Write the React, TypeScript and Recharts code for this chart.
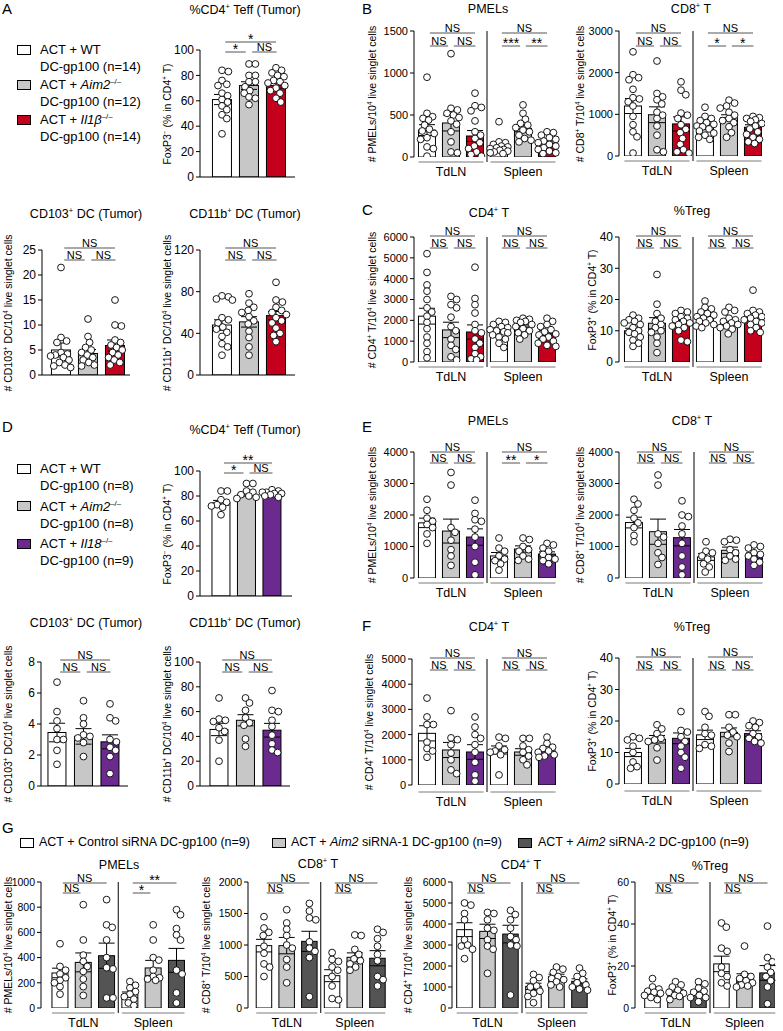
import React from 'react';
import { ComposedChart, Bar, ErrorBar, Scatter, XAxis, YAxis, ReferenceLine } from 'recharts';

const FONT = '"Liberation Sans", Arial, Helvetica, sans-serif';

const WHITE = '#ffffff';
const LGRAY = '#c7c7c7';
const RED = '#c5001c';
const PURPLE = '#6b2b8e';
const DGRAY = '#545454';

// ---------- A: Il1b cohort (n = 14, 12, 14)
const aTeffMean = [61, 72, 72];
const aTeffSem = [4, 3, 2];
const aTeffPts = [
  [84, 83, 76, 73, 72, 66, 64, 61, 59, 56, 53, 49, 46, 34],
  [89, 89, 80, 80, 75, 75, 71, 68, 66, 63, 62, 57],
  [86, 84, 82, 80, 79, 76, 75, 74, 72, 70, 68, 66, 62, 59],
];
const aDc103Mean = [5, 4.3, 5.9];
const aDc103Sem = [1.4, 0.8, 1.1];
const aDc103Pts = [
  [21.5, 7.5, 6.8, 6.5, 4.5, 4.2, 4, 3.8, 3.5, 3, 2.5, 2, 1.8, 1.5],
  [11.2, 7.7, 6.5, 5.5, 5, 4.5, 4, 3.5, 3, 2.5, 2, 1.8],
  [15, 10, 9.8, 7, 6.5, 6, 5.5, 5, 4.5, 4, 3.5, 3, 2.5, 2],
];
const aDc11bMean = [48, 51, 57];
const aDc11bSem = [5, 5, 4];
const aDc11bPts = [
  [76, 75, 73, 72, 55, 53, 50, 46, 44, 41, 37, 30, 27, 19],
  [78, 69, 65, 62, 60, 56, 52, 49, 42, 36, 27, 19],
  [89, 72, 70, 65, 62, 60, 58, 55, 52, 50, 45, 40, 38, 32],
];

// ---------- B / C: TdLN then Spleen
const bPmelMean = [320, 405, 250, 125, 340, 165];
const bPmelSem = [65, 95, 65, 25, 40, 25];
const bPmelPts = [
  [950, 520, 480, 460, 440, 380, 330, 310, 280, 230, 210, 120, 100, 10],
  [1230, 580, 560, 520, 500, 470, 430, 390, 300, 180, 60, 50],
  [760, 610, 590, 550, 430, 300, 260, 220, 170, 130, 100, 60, 30, 10],
  [420, 180, 170, 150, 130, 120, 110, 100, 90, 80, 70, 60, 50, 40],
  [620, 520, 450, 400, 380, 350, 320, 300, 260, 220, 200, 180],
  [300, 290, 260, 230, 210, 190, 170, 150, 130, 110, 90, 70, 50, 40],
];
const bCd8Mean = [1200, 990, 770, 690, 920, 690];
const bCd8Sem = [180, 190, 170, 60, 70, 60];
const bCd8Pts = [
  [2500, 1950, 1880, 1830, 1600, 1400, 1370, 1300, 1200, 950, 750, 580, 460, 70],
  [2280, 1500, 1420, 1350, 1250, 1050, 980, 900, 720, 500, 150, 100],
  [1780, 1580, 1470, 1030, 980, 900, 750, 640, 560, 420, 280, 150, 100, 70],
  [1170, 950, 900, 850, 800, 760, 720, 700, 650, 600, 550, 500, 450, 400],
  [1340, 1270, 1200, 1150, 1050, 980, 900, 850, 800, 700, 560, 450],
  [950, 920, 900, 870, 830, 780, 720, 650, 580, 520, 450, 400, 340, 300],
];
const cCd4Mean = [2200, 1540, 1440, 1440, 1730, 1390];
const cCd4Sem = [380, 370, 340, 90, 80, 110];
const cCd4Pts = [
  [5200, 4300, 3700, 3400, 3000, 2600, 2400, 2200, 1900, 1600, 1200, 900, 500, 200],
  [3150, 3000, 2750, 2600, 2150, 1700, 1500, 1100, 800, 600, 250, 100],
  [4550, 3050, 2750, 2350, 1800, 1500, 1400, 1100, 900, 700, 400, 250, 150, 100],
  [1950, 1900, 1800, 1700, 1650, 1550, 1500, 1450, 1400, 1300, 1200, 1100, 900, 700],
  [2100, 2050, 2000, 1950, 1900, 1800, 1700, 1600, 1500, 1400, 1300, 1100],
  [2100, 1950, 1800, 1700, 1550, 1450, 1350, 1300, 1200, 1100, 1000, 900, 800, 750],
];
const cTregMean = [10, 12.4, 12.4, 14.5, 12.7, 14];
const cTregSem = [0.8, 1.8, 0.9, 0.6, 0.7, 1.0];
const cTregPts = [
  [15, 14, 13.5, 13, 12.5, 12, 11, 10, 9.5, 9, 8, 7, 6, 5],
  [28, 18.5, 15.5, 14, 13, 12, 11, 10, 9.5, 8, 6, 3],
  [16.5, 16, 15.5, 14.5, 14, 13.5, 13, 12.5, 12, 11.5, 11, 10, 7, 6.5],
  [19.5, 17.5, 17, 16, 15.5, 15, 14.5, 14, 13.5, 13, 12.5, 12, 11.5, 11],
  [17.5, 16.5, 16, 14, 13.5, 13, 12.5, 12, 11.5, 11, 10.5, 9],
  [23, 16.5, 16, 15.5, 15, 14.5, 14, 13.5, 13, 12.5, 12, 11, 10, 9.5],
];

// ---------- D: Il18 cohort (n = 8, 8, 9)
const dTeffMean = [74.5, 81.4, 82];
const dTeffSem = [2, 1.5, 0.8];
const dTeffPts = [
  [84, 84, 77, 75, 73, 72, 71, 65],
  [90, 90, 84, 83, 81, 80, 79, 78],
  [85, 84, 83, 83, 82, 82, 81, 80, 79],
];
const dDc103Mean = [3.45, 3.2, 2.85];
const dDc103Sem = [0.6, 0.5, 0.45];
const dDc103Pts = [
  [6.7, 4.8, 4.2, 3.7, 3.0, 3.0, 2.3, 1.4],
  [5.5, 4.4, 4.0, 3.3, 3.2, 3.1, 2.8, 1.9],
  [5.3, 4.4, 4.2, 3.0, 2.85, 2.5, 2.3, 1.9, 0.8],
];
const dDc11bMean = [45.6, 53, 45];
const dDc11bSem = [5, 4.5, 5.5];
const dDc11bPts = [
  [71, 54, 53, 52, 47, 44, 37, 20],
  [71, 67, 61, 55, 51, 49, 38, 32],
  [77, 61, 60, 53, 48, 41, 34, 29, 27],
];

// ---------- E / F
const ePmelMean = [1750, 1490, 1300, 700, 920, 760];
const ePmelSem = [150, 380, 260, 110, 100, 70];
const ePmelPts = [
  [2500, 2150, 1900, 1800, 1700, 1600, 1400, 1100],
  [3350, 2950, 1600, 1450, 1200, 900, 700, 400],
  [2470, 2050, 1850, 1800, 1550, 1300, 1000, 500, 100],
  [1270, 950, 850, 700, 600, 550, 450, 250],
  [1270, 1220, 1000, 900, 850, 700, 600, 560],
  [1100, 1050, 950, 850, 750, 650, 600, 550, 450],
];
const eCd8Mean = [1760, 1470, 1280, 670, 880, 720];
const eCd8Sem = [170, 400, 260, 110, 100, 80];
const eCd8Pts = [
  [2500, 2350, 2150, 1900, 1750, 1600, 1350, 1150],
  [3270, 2950, 1400, 1300, 1100, 800, 650, 430],
  [2450, 2000, 1950, 1650, 1400, 1100, 700, 350, 100],
  [1150, 850, 800, 700, 600, 450, 350, 190],
  [1230, 1200, 1150, 900, 800, 700, 600, 560],
  [1050, 1000, 950, 800, 750, 700, 600, 500, 400],
];
const fCd4Mean = [2050, 1390, 1310, 1390, 1310, 1350];
const fCd4Sem = [300, 300, 290, 160, 130, 90];
const fCd4Pts = [
  [3450, 2700, 2400, 2400, 1700, 1450, 1350, 1100],
  [2950, 1870, 1800, 1600, 1270, 1000, 600, 450],
  [2700, 2300, 2000, 1850, 1600, 1300, 900, 400, 150],
  [1900, 1850, 1550, 1400, 1350, 1300, 1200, 400],
  [1850, 1850, 1550, 1400, 1300, 1150, 1000, 800],
  [1900, 1650, 1500, 1450, 1350, 1300, 1200, 1150, 1100],
];
const fTregMean = [10, 14.2, 14.5, 15.6, 16.4, 16];
const fTregSem = [1.3, 1.2, 1.7, 1.5, 1.4, 0.9];
const fTregPts = [
  [15, 14.5, 14, 12, 10, 7, 5.5, 5],
  [18.8, 17.5, 16, 14.5, 14, 13.5, 11.5, 7.6],
  [23, 17, 16.5, 15, 13.5, 12, 10, 8.5, 5],
  [23, 21.5, 18, 16, 15.5, 12.5, 12, 11.3],
  [22, 22, 18, 16.5, 15.5, 15, 13, 10.3],
  [20, 19.5, 18.5, 18, 16, 15, 14.5, 13.5, 13],
];

// ---------- G: siRNA cohort (n = 9 each)
const gPmelMean = [278, 362, 415, 105, 318, 378];
const gPmelSem = [38, 75, 100, 22, 60, 95];
const gPmelPts = [
  [510, 330, 300, 270, 240, 220, 200, 170, 110],
  [820, 540, 420, 370, 330, 290, 230, 170, 100],
  [860, 660, 640, 540, 400, 320, 310, 80, 80],
  [210, 180, 160, 130, 110, 90, 70, 40, 20],
  [660, 540, 400, 380, 300, 250, 240, 230, 220],
  [780, 740, 630, 580, 540, 300, 270, 120, 40],
];
const gCd8Mean = [990, 990, 1058, 513, 805, 790];
const gCd8Sem = [100, 130, 160, 95, 70, 120];
const gCd8Pts = [
  [1450, 1270, 1200, 1150, 980, 870, 700, 650, 500],
  [1560, 1350, 1250, 1150, 1000, 950, 770, 650, 400],
  [1660, 1540, 1430, 1400, 1050, 950, 900, 800, 180],
  [880, 770, 740, 650, 600, 500, 350, 150, 130],
  [1160, 1150, 930, 850, 780, 750, 700, 650, 600],
  [1250, 1200, 1100, 980, 850, 750, 500, 450, 350],
];
const gCd4Mean = [3730, 3650, 3520, 1030, 1500, 1270];
const gCd4Sem = [330, 340, 420, 150, 110, 120];
const gCd4Pts = [
  [5000, 4900, 4500, 4200, 3250, 3000, 2950, 2800, 2350],
  [4550, 4500, 4200, 3800, 3700, 3250, 2950, 2800, 1650],
  [4650, 4450, 4200, 3800, 3400, 3250, 3000, 2950, 620],
  [1600, 1450, 1300, 1050, 1000, 800, 700, 550, 250],
  [1950, 1850, 1700, 1500, 1400, 1350, 1250, 1100, 1000],
  [1900, 1650, 1500, 1350, 1200, 1100, 1000, 900, 850],
];
const gTregMean = [7.1, 8, 7.5, 21, 14.3, 16.7];
const gTregSem = [1, 0.9, 1, 3.7, 2, 3.5];
const gTregPts = [
  [14, 10, 9, 8, 7.5, 7, 6, 5, 4],
  [12.5, 11, 10, 8.5, 7.5, 7, 6, 5.5, 4],
  [12.5, 11.5, 9.5, 8, 7.5, 6, 5, 5, 3],
  [40.5, 38.5, 28.5, 27, 19.5, 16.5, 15, 12, 10.5],
  [29.5, 16, 15, 14, 13, 12, 11, 10.5, 10],
  [39, 24, 22, 19.5, 17, 15, 13, 10, 2],
];

const groupNames = ['TdLN', 'Spleen'];
const ticksTeff = [0, 20, 40, 60, 80, 100];

type Br = { from: number; to: number; text: string; top?: boolean };
const sig3 = (o: number, a: string, b: string, c: string): Br[] => [
  { from: o, to: o + 2, text: a, top: true },
  { from: o, to: o + 1, text: b },
  { from: o + 1, to: o + 2, text: c },
];
const sig2 = (o: number, a: string, b: string): Br[] => [
  { from: o, to: o + 2, text: a, top: true },
  { from: o, to: o + 1, text: b },
];

type Cfg = {
  axisX: number; c1: number; sp: number; bw: number; endX: number;
  yTop: number; y0: number; yMax: number; ticks: number[];
  means: number[]; sems: number[]; pts: number[][]; fills: string[];
  br: Br[]; brY: [number, number]; under?: number; tick?: number;
  title: React.ReactNode; titleX: number; titleY: number;
  yLabel: React.ReactNode; yLabelX: number;
};

// simple beeswarm: pixel offsets so the circles do not pile up
function swarm(vals: number[], pxY: number, r: number, lim: number): number[] {
  const order = vals.map((_, i) => i).sort((a, b) => vals[b] - vals[a]);
  const placed: [number, number][] = [];
  const out: number[] = new Array(vals.length).fill(0);
  const cands: number[] = [0];
  for (let k = 1; k * 0.8 <= lim; k++) cands.push(k * 0.8, -k * 0.8);
  for (const i of order) {
    const y = vals[i] * pxY;
    let best = 0;
    let bestD = -1;
    for (const c of cands) {
      let d = Infinity;
      for (const [px, py] of placed) d = Math.min(d, Math.hypot(px - c, py - y));
      if (d >= r * 1.8) { best = c; break; }
      if (d > bestD) { bestD = d; best = c; }
    }
    placed.push([best, y]);
    out[i] = best;
  }
  return out;
}

const Sup = ({ children }: { children: React.ReactNode }) => (
  <sup style={{ fontSize: '0.6em', lineHeight: 0, verticalAlign: '0.6em' }}>{children}</sup>
);

function Txt({ x, y, size = 12.5, rot = false, anchor = 'middle', children }: any) {
  const tx = anchor === 'middle' ? '-50%' : anchor === 'start' ? '0%' : '-100%';
  return (
    <div style={{
      position: 'absolute', left: x, top: y, fontSize: size, lineHeight: 1, whiteSpace: 'nowrap',
      transform: `translate(${tx},-50%)${rot ? ' rotate(-90deg)' : ''}`,
    }}>{children}</div>
  );
}

const dot = (p: any) => <circle cx={p.cx} cy={p.cy} r={3.4} fill="#fff" stroke="#000" strokeWidth={0.9} />;
const noMark = () => <g />;

function Panel({ c }: { c: Cfg }) {
  const ML = 44, MR = 8, MT = 40, MB = 34;
  const plotW = c.endX - c.axisX;
  const plotH = c.y0 - c.yTop;
  const dMin = 1 - (c.c1 - c.axisX) / c.sp;
  const dMax = 1 + (c.endX - c.c1) / c.sp;
  const pxY = plotH / c.yMax;
  const u = 1 / pxY;
  const rows = c.means.map((m, i) => ({ x: i + 1, mean: m, sem: c.sems[i] }));
  const dots = c.pts.flatMap((vals, i) => {
    const off = swarm(vals, pxY, 3.4, c.bw / 2 + 1);
    return vals.map((v, j) => ({ x: i + 1 + off[j] / c.sp, y: v }));
  });
  const grouped = c.means.length > 3;
  const yHi = c.yMax - c.brY[0] * u;
  const yLo = c.yMax - c.brY[1] * u;
  const yU = -(c.under ?? 5) * u;
  const half = c.bw / 2 / c.sp;
  // the bar is drawn centred on the library's x position, with the panel's bar width
  const barShape = (p: any) => {
    const cx = p.x + p.width / 2;
    const i = (p.payload?.x ?? 1) - 1;
    return <rect x={cx - c.bw / 2} y={p.y} width={c.bw} height={p.height} fill={c.fills[i]} stroke="#000" strokeWidth={1} />;
  };
  return (
    <>
      <div style={{ position: 'absolute', left: c.axisX - ML, top: c.yTop - MT }}>
        <ComposedChart width={ML + plotW + MR} height={MT + plotH + MB} data={rows}
          margin={{ top: MT, right: MR, bottom: MB, left: 0 }}>
          <XAxis type="number" dataKey="x" domain={[dMin, dMax]} hide allowDataOverflow />
          <YAxis type="number" domain={[0, c.yMax]} ticks={c.ticks} interval={0} allowDataOverflow width={ML}
            tickSize={4} tickMargin={2} stroke="#000" tick={{ fontSize: c.tick ?? 11, fill: '#000' }} />
          {!grouped && <ReferenceLine y={0} stroke="#000" ifOverflow="visible" />}
          {grouped && (
            <ReferenceLine segment={[{ x: 3.5, y: yU }, { x: 3.5, y: c.yMax }]} stroke="#000" ifOverflow="visible" />
          )}
          {grouped && groupNames.map((g, k) => (
            <ReferenceLine key={g} segment={[{ x: 1 + 3 * k - half, y: yU }, { x: 3 + 3 * k + half, y: yU }]}
              stroke="#7a7a7a" ifOverflow="visible"
              label={{ value: g, position: 'bottom', offset: 5, fontSize: 12.5, fill: '#000' }} />
          ))}
          <Bar dataKey="mean" barSize={c.bw} isAnimationActive={false} shape={barShape} />
          <Scatter data={dots} dataKey="y" isAnimationActive={false} shape={dot} />
          <Scatter data={rows} dataKey="mean" isAnimationActive={false} shape={noMark}>
            <ErrorBar dataKey="sem" width={8} stroke="#000" strokeWidth={1} direction="y" />
          </Scatter>
          {c.br.map((b, k) => {
            const y = b.top ? yHi : yLo;
            const first = (b.from - 1) % 3 === 0;
            const xa = b.from + 0.12;
            const xb = b.top ? b.to : first ? b.to - 0.12 : b.to + 0.02;
            const star = b.text !== 'NS';
            return (
              <ReferenceLine key={k} segment={[{ x: xa, y }, { x: xb, y }]} stroke="#555" ifOverflow="visible"
                label={{ value: b.text, position: 'top', offset: star ? -2 : 1.5, fontSize: star ? 14 : 11, fill: '#000' }} />
            );
          })}
        </ComposedChart>
      </div>
      <Txt x={c.titleX} y={c.titleY}>{c.title}</Txt>
      <Txt x={c.yLabelX} y={(c.yTop + c.y0) / 2} size={10.5} rot>{c.yLabel}</Txt>
    </>
  );
}

const fillsA = [WHITE, LGRAY, RED];
const fillsA6 = [...fillsA, ...fillsA];
const fillsD = [WHITE, LGRAY, PURPLE];
const fillsD6 = [...fillsD, ...fillsD];
const fillsG6 = [WHITE, LGRAY, DGRAY, WHITE, LGRAY, DGRAY];

const lblTeff = <>FoxP3<Sup>−</Sup> (% in CD4<Sup>+</Sup> T)</>;
const lblTreg = <>FoxP3<Sup>+</Sup> (% in CD4<Sup>+</Sup> T)</>;
const lblPmel = <># PMELs/10<Sup>4</Sup> live singlet cells</>;
const lblCd8 = <># CD8<Sup>+</Sup> T/10<Sup>4</Sup> live singlet cells</>;
const lblCd4 = <># CD4<Sup>+</Sup> T/10<Sup>4</Sup> live singlet cells</>;
const lbl103 = <># CD103<Sup>+</Sup> DC/10<Sup>4</Sup> live singlet cells</>;
const lbl11b = <># CD11b<Sup>+</Sup> DC/10<Sup>4</Sup> live singlet cells</>;
const tTeff = <>%CD4<Sup>+</Sup> Teff (Tumor)</>;
const t103 = <>CD103<Sup>+</Sup> DC (Tumor)</>;
const t11b = <>CD11b<Sup>+</Sup> DC (Tumor)</>;
const tCd8 = <>CD8<Sup>+</Sup> T</>;
const tCd4 = <>CD4<Sup>+</Sup> T</>;

const tumorL = { axisX: 42, c1: 61, sp: 27, bw: 19, endX: 130 };
const tumorR = { axisX: 200, c1: 222, sp: 27, bw: 19, endX: 295 };
const grpL = { axisX: 414, c1: 427, sp: 24, bw: 17, endX: 561 };
const grpR = { axisX: 619, c1: 633, sp: 24, bw: 17, endX: 765 };

const panels: Cfg[] = [
  { ...tumorR, yTop: 50, y0: 177, yMax: 100, ticks: ticksTeff, means: aTeffMean, sems: aTeffSem, pts: aTeffPts,
    fills: fillsA, br: sig3(1, '*', '*', 'NS'), brY: [-8, 2], tick: 12, title: tTeff, titleX: 245, titleY: 10,
    yLabel: lblTeff, yLabelX: 167 },
  { ...grpL, yTop: 31, y0: 157, yMax: 1500, ticks: [0, 500, 1000, 1500], means: bPmelMean, sems: bPmelSem, pts: bPmelPts,
    fills: fillsA6, br: [...sig3(1, 'NS', 'NS', 'NS'), ...sig3(4, 'NS', '***', '**')], brY: [2, 15],
    title: 'PMELs', titleX: 488, titleY: 9, yLabel: lblPmel, yLabelX: 372 },
  { ...grpR, yTop: 31, y0: 156, yMax: 3000, ticks: [0, 1000, 2000, 3000], means: bCd8Mean, sems: bCd8Sem, pts: bCd8Pts,
    fills: fillsA6, br: [...sig3(1, 'NS', 'NS', 'NS'), ...sig3(4, 'NS', '*', '*')], brY: [2, 15],
    title: tCd8, titleX: 691, titleY: 9, yLabel: lblCd8, yLabelX: 580 },
  { ...tumorL, yTop: 250, y0: 375, yMax: 25, ticks: [0, 5, 10, 15, 20, 25], means: aDc103Mean, sems: aDc103Sem, pts: aDc103Pts,
    fills: fillsA, br: sig3(1, 'NS', 'NS', 'NS'), brY: [-2, 10], tick: 12, title: t103, titleX: 86, titleY: 214,
    yLabel: lbl103, yLabelX: 8 },
  { ...tumorR, yTop: 250, y0: 375, yMax: 120, ticks: [0, 40, 80, 120], means: aDc11bMean, sems: aDc11bSem, pts: aDc11bPts,
    fills: fillsA, br: sig3(1, 'NS', 'NS', 'NS'), brY: [-2, 10], tick: 12, title: t11b, titleX: 245, titleY: 214,
    yLabel: lbl11b, yLabelX: 167 },
  { ...grpL, yTop: 237, y0: 362, yMax: 6000, ticks: [0, 1000, 2000, 3000, 4000, 5000, 6000], means: cCd4Mean, sems: cCd4Sem,
    pts: cCd4Pts, fills: fillsA6, br: [...sig3(1, 'NS', 'NS', 'NS'), ...sig3(4, 'NS', 'NS', 'NS')], brY: [-1, 11],
    title: tCd4, titleX: 489, titleY: 213, yLabel: lblCd4, yLabelX: 372 },
  { ...grpR, yTop: 237, y0: 362, yMax: 40, ticks: [0, 10, 20, 30, 40], means: cTregMean, sems: cTregSem, pts: cTregPts,
    fills: fillsA6, br: [...sig3(1, 'NS', 'NS', 'NS'), ...sig3(4, 'NS', 'NS', 'NS')], brY: [-1, 11], tick: 12,
    title: '%Treg', titleX: 692, titleY: 211, yLabel: lblTreg, yLabelX: 592 },
  { ...tumorR, c1: 221, sp: 25.5, bw: 18, endX: 292, yTop: 471, y0: 596, yMax: 100, ticks: ticksTeff, means: dTeffMean,
    sems: dTeffSem, pts: dTeffPts, fills: fillsD, br: sig3(1, '**', '*', 'NS'), brY: [-8, 2], tick: 12, title: tTeff,
    titleX: 245, titleY: 430, yLabel: lblTeff, yLabelX: 167 },
  { ...grpL, yTop: 452, y0: 578, yMax: 4000, ticks: [0, 1000, 2000, 3000, 4000], means: ePmelMean, sems: ePmelSem,
    pts: ePmelPts, fills: fillsD6, br: [...sig3(1, 'NS', 'NS', 'NS'), ...sig3(4, 'NS', '**', '*')], brY: [0, 11],
    title: 'PMELs', titleX: 488, titleY: 421, yLabel: lblPmel, yLabelX: 372 },
  { ...grpR, c1: 634, yTop: 452, y0: 578, yMax: 4000, ticks: [0, 1000, 2000, 3000, 4000], means: eCd8Mean, sems: eCd8Sem,
    pts: eCd8Pts, fills: fillsD6, br: [...sig3(1, 'NS', 'NS', 'NS'), ...sig3(4, 'NS', 'NS', 'NS')], brY: [0, 11],
    title: tCd8, titleX: 692, titleY: 421, yLabel: lblCd8, yLabelX: 580 },
  { axisX: 41, c1: 57, sp: 26.5, bw: 18, endX: 128, yTop: 662, y0: 786, yMax: 8, ticks: [0, 2, 4, 6, 8], means: dDc103Mean,
    sems: dDc103Sem, pts: dDc103Pts, fills: fillsD, br: sig3(1, 'NS', 'NS', 'NS'), brY: [-2, 10], tick: 12, title: t103,
    titleX: 86, titleY: 623, yLabel: lbl103, yLabelX: 8 },
  { axisX: 200, c1: 219, sp: 26.5, bw: 18, endX: 290, yTop: 662, y0: 786, yMax: 100, ticks: ticksTeff, means: dDc11bMean,
    sems: dDc11bSem, pts: dDc11bPts, fills: fillsD, br: sig3(1, 'NS', 'NS', 'NS'), brY: [-2, 10], tick: 12, title: t11b,
    titleX: 245, titleY: 623, yLabel: lbl11b, yLabelX: 167 },
  { ...grpL, axisX: 412, yTop: 659, y0: 785, yMax: 5000, ticks: [0, 1000, 2000, 3000, 4000, 5000], means: fCd4Mean,
    sems: fCd4Sem, pts: fCd4Pts, fills: fillsD6, br: [...sig3(1, 'NS', 'NS', 'NS'), ...sig3(4, 'NS', 'NS', 'NS')],
    brY: [-1, 11], under: 7, title: tCd4, titleX: 489, titleY: 627, yLabel: lblCd4, yLabelX: 369 },
  { ...grpR, yTop: 658, y0: 784, yMax: 40, ticks: [0, 10, 20, 30, 40], means: fTregMean, sems: fTregSem, pts: fTregPts,
    fills: fillsD6, br: [...sig3(1, 'NS', 'NS', 'NS'), ...sig3(4, 'NS', 'NS', 'NS')], brY: [-1, 12], under: 7, tick: 12,
    title: '%Treg', titleX: 692, titleY: 627, yLabel: lblTreg, yLabelX: 592 },
  { axisX: 41, c1: 60, sp: 23.3, bw: 16, endX: 190, yTop: 882, y0: 1008, yMax: 1000, ticks: [0, 200, 400, 600, 800, 1000],
    means: gPmelMean, sems: gPmelSem, pts: gPmelPts, fills: fillsG6, br: [...sig2(1, 'NS', 'NS'), ...sig2(4, '**', '*')],
    brY: [1, 11], tick: 10.5, title: 'PMELs', titleX: 119, titleY: 865, yLabel: lblPmel, yLabelX: 8 },
  { axisX: 248, c1: 264, sp: 22.7, bw: 15.5, endX: 392, yTop: 882, y0: 1008, yMax: 2000, ticks: [0, 500, 1000, 1500, 2000],
    means: gCd8Mean, sems: gCd8Sem, pts: gCd8Pts, fills: fillsG6, br: [...sig2(1, 'NS', 'NS'), ...sig2(4, 'NS', 'NS')],
    brY: [1, 11], tick: 10.5, title: tCd8, titleX: 318, titleY: 864, yLabel: lblCd8, yLabelX: 206 },
  { axisX: 452, c1: 464.5, sp: 23, bw: 15.5, endX: 592, yTop: 882, y0: 1008, yMax: 6000,
    ticks: [0, 1000, 2000, 3000, 4000, 5000, 6000], means: gCd4Mean, sems: gCd4Sem, pts: gCd4Pts, fills: fillsG6,
    br: [...sig2(1, 'NS', 'NS'), ...sig2(4, 'NS', 'NS')], brY: [1, 11], tick: 10.5, title: tCd4, titleX: 521, titleY: 865,
    yLabel: lblCd4, yLabelX: 408 },
  { axisX: 635, c1: 652.5, sp: 23, bw: 15.5, endX: 775, yTop: 882, y0: 1008, yMax: 60, ticks: [0, 20, 40, 60],
    means: gTregMean, sems: gTregSem, pts: gTregPts, fills: fillsG6, br: [...sig2(1, 'NS', 'NS'), ...sig2(4, 'NS', 'NS')],
    brY: [1, 11], tick: 10.5, title: '%Treg', titleX: 710, titleY: 866, yLabel: lblTreg, yLabelX: 612 },
];

const Box = ({ x, y, fill }: { x: number; y: number; fill: string }) => (
  <div style={{ position: 'absolute', left: x, top: y - 4.5, width: 12, height: 8, background: fill, border: '1px solid #000' }} />
);

const aLegendN = [14, 12, 14];
const dLegendN = [8, 8, 9];

function Legend3({ y0, step, fills, genes, ns }: any) {
  return (
    <>
      {fills.map((f: string, i: number) => (
        <React.Fragment key={i}>
          <Box x={17} y={y0 + i * step} fill={f} />
          <Txt x={40} y={y0 + i * step} size={13} anchor="start">ACT + {genes[i]}</Txt>
          <Txt x={40} y={y0 + i * step + 17} size={13} anchor="start">DC-gp100 (n={ns[i]})</Txt>
        </React.Fragment>
      ))}
    </>
  );
}

const KO = ({ g }: { g: string }) => <><i>{g}</i><Sup>–/–</Sup></>;

export default function App() {
  return (
    <div style={{ position: 'absolute', left: 0, top: 0, width: 783, height: 1031, background: '#fff', fontFamily: FONT, color: '#000', overflow: 'hidden' }}>
      <Txt x={2} y={8} size={15} anchor="start">A</Txt>
      <Txt x={362} y={8} size={15} anchor="start">B</Txt>
      <Txt x={362} y={209} size={15} anchor="start">C</Txt>
      <Txt x={2} y={426} size={15} anchor="start">D</Txt>
      <Txt x={362} y={426} size={15} anchor="start">E</Txt>
      <Txt x={362} y={625} size={15} anchor="start">F</Txt>
      <Txt x={2} y={827} size={15} anchor="start">G</Txt>

      <Legend3 y0={49} step={35} fills={fillsA} ns={aLegendN}
        genes={['WT', <KO g="Aim2" />, <KO g="Il1β" />]} />
      <Legend3 y0={468} step={37.5} fills={fillsD} ns={dLegendN}
        genes={['WT', <KO g="Aim2" />, <KO g="Il18" />]} />

      <Box x={20} y={842} fill={WHITE} />
      <Txt x={39} y={842} size={12.5} anchor="start">ACT + Control siRNA DC-gp100 (n=9)</Txt>
      <Box x={272} y={842} fill={LGRAY} />
      <Txt x={291} y={842} size={12.5} anchor="start">ACT + <i>Aim2</i> siRNA-1 DC-gp100 (n=9)</Txt>
      <Box x={518} y={842} fill={DGRAY} />
      <Txt x={538} y={842} size={12.5} anchor="start">ACT + <i>Aim2</i> siRNA-2 DC-gp100 (n=9)</Txt>

      {panels.map((c, i) => <Panel key={i} c={c} />)}
    </div>
  );
}
